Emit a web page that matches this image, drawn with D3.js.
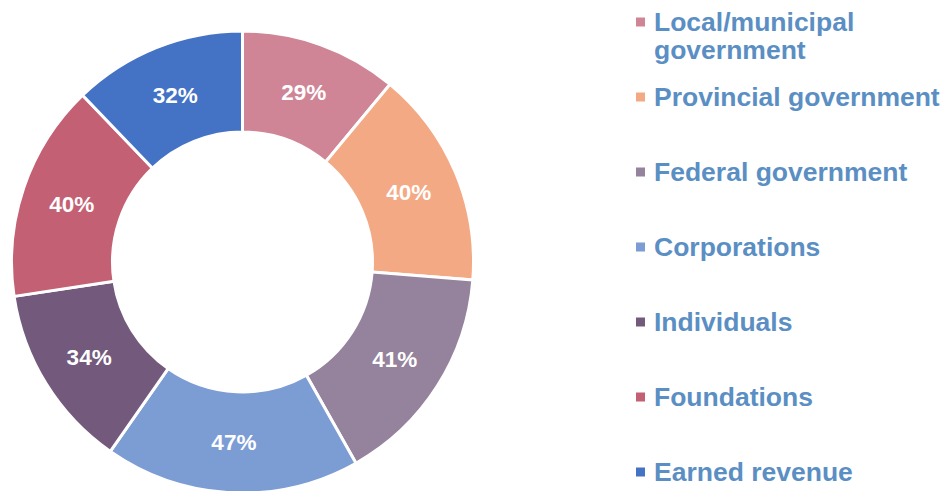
<!DOCTYPE html>
<html>
<head>
<meta charset="utf-8">
<script src="https://cdn.jsdelivr.net/npm/d3@7"></script>
<style>
  body { margin: 0; background: #fff; }
  svg { display: block; font-family: "Liberation Sans", Arial, sans-serif; }
</style>
</head>
<body>
<svg id="chart"></svg>
<script>
const categories = ['Local/municipal government', 'Provincial government', 'Federal government',
  'Corporations', 'Individuals', 'Foundations', 'Earned revenue'];
const values = [29, 40, 41, 47, 34, 40, 32];
const colors = ['#d08596', '#f4a985', '#95829c', '#7c9cd4', '#735a7d', '#c46073', '#4472c4'];
// legend label split into lines
const legendLines = [['Local/municipal', 'government'], ['Provincial government'], ['Federal government'],
  ['Corporations'], ['Individuals'], ['Foundations'], ['Earned revenue']];

const width = 948, height = 491;
const cx = 242.5, cy = 262;
const outer = 231, inner = 130;

const svg = d3.select('#chart')
  .attr('width', width)
  .attr('height', height);

const data = categories.map((c, i) => ({ label: c, value: values[i], color: colors[i] }));

const pie = d3.pie()
  .value(d => d.value)
  .sort(null);

const arc = d3.arc()
  .innerRadius(inner)
  .outerRadius(outer);

const g = svg.append('g')
  .attr('transform', `translate(${cx},${cy})`);

const slices = g.selectAll('g.slice')
  .data(pie(data))
  .enter()
  .append('g')
  .attr('class', 'slice');

slices.append('path')
  .attr('d', arc)
  .attr('fill', d => d.data.color)
  .attr('stroke', '#fff')
  .attr('stroke-width', 3);

slices.append('text')
  .attr('transform', d => `translate(${arc.centroid(d)})`)
  .attr('text-anchor', 'middle')
  .attr('dy', '.36em')
  .style('font-size', '22.5px')
  .style('font-weight', 'bold')
  .style('fill', '#fff')
  .text(d => d.data.value + '%');

// legend
const legendY = d3.scaleLinear().domain([0, 6]).range([22, 472]);

const legend = svg.append('g')
  .selectAll('g')
  .data(data)
  .enter()
  .append('g')
  .attr('transform', (d, i) => `translate(0,${legendY(i)})`);

legend.append('rect')
  .attr('x', 636)
  .attr('y', -4.5)
  .attr('width', 9)
  .attr('height', 9)
  .attr('fill', d => d.color);

legend.append('text')
  .attr('x', 654)
  .attr('y', 9.3)
  .style('font-size', '26.5px')
  .style('font-weight', 'bold')
  .style('fill', '#5b8fc4')
  .each(function(d, i) {
    const t = d3.select(this);
    legendLines[i].forEach((line, j) => {
      t.append('tspan')
        .attr('x', 654)
        .attr('dy', j === 0 ? 0 : 28)
        .text(line);
    });
  });
</script>
</body>
</html>
